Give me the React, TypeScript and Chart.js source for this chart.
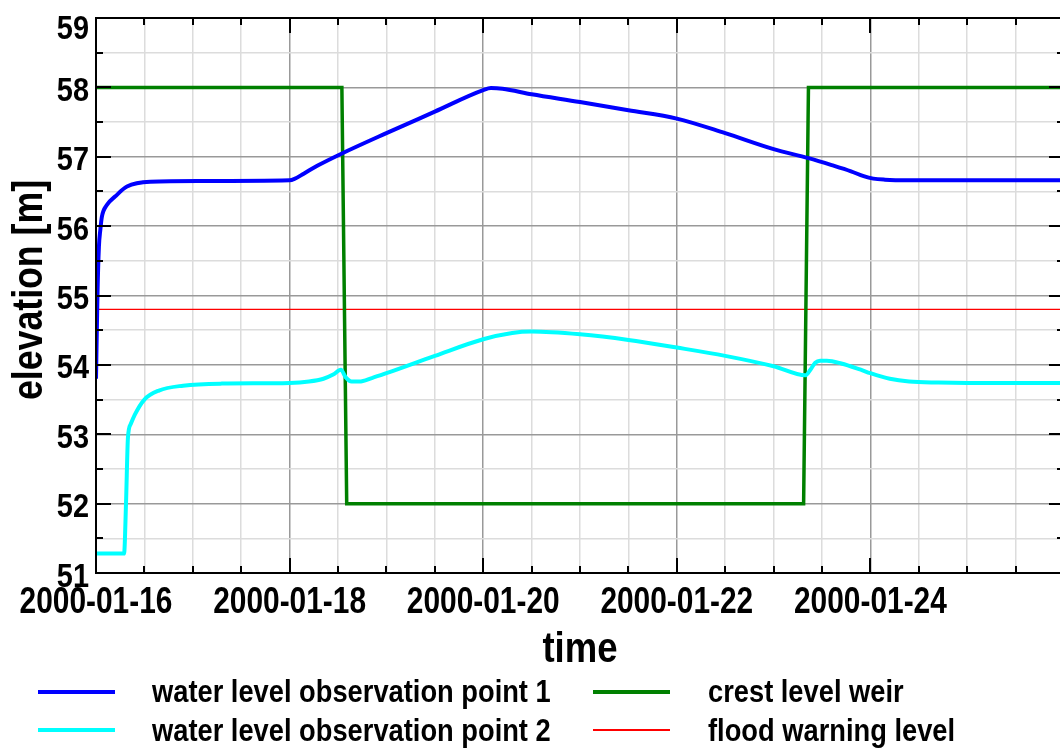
import React, { useEffect, useRef } from 'react';
import { Chart, registerables } from 'chart.js';

Chart.register(...registerables);

const FONT = "'Liberation Sans', Arial, sans-serif";

// x values are days since 2000-01-16 00:00
const xMin = 0;
const xMax = 10;
const xStep = 0.5;
const xTickDays = [0, 2, 4, 6, 8];
const xTickLabels = ['2000-01-16', '2000-01-18', '2000-01-20', '2000-01-22', '2000-01-24'];

const yMin = 51;
const yMax = 59;
const yStep = 0.5;
const yTickValues = [51, 52, 53, 54, 55, 56, 57, 58, 59];
const yTickLabels = ['51', '52', '53', '54', '55', '56', '57', '58', '59'];

const xTitle = 'time';
const yTitle = 'elevation [m]';

const seriesNames = [
  'water level observation point 1',
  'water level observation point 2',
  'crest level weir',
  'flood warning level',
];

const obs1Days = [0, 0.015, 0.03, 0.045, 0.06, 0.11, 0.2, 0.32, 0.56, 1.07, 2.0, 2.05, 2.15, 2.3, 2.53, 3.0, 3.5, 4.0, 4.08, 4.2, 4.5, 5.0, 5.5, 6.0, 6.5, 7.0, 7.36, 7.6, 7.8, 7.93, 8.03, 8.15, 8.4, 10];
const obs1Values = [53.8, 55.0, 55.7, 55.95, 56.13, 56.3, 56.43, 56.57, 56.64, 56.65, 56.66, 56.68, 56.76, 56.88, 57.04, 57.34, 57.65, 57.96, 57.99, 57.98, 57.9, 57.79, 57.67, 57.55, 57.34, 57.11, 56.98, 56.88, 56.79, 56.72, 56.685, 56.67, 56.662, 56.66];

const obs2Days = [0, 0.29, 0.31, 0.33, 0.36, 0.4, 0.5, 0.65, 0.9, 1.3, 2.0, 2.2, 2.35, 2.45, 2.53, 2.58, 2.64, 2.72, 2.85, 3.0, 3.5, 4.0, 4.3, 4.5, 5.0, 5.5, 6.0, 6.5, 7.0, 7.33, 7.38, 7.43, 7.48, 7.55, 7.7, 7.9, 8.0, 8.2, 8.4, 8.7, 9.0, 10];
const obs2Values = [51.28, 51.28, 52.0, 52.95, 53.15, 53.28, 53.5, 53.63, 53.7, 53.73, 53.74, 53.76, 53.8, 53.86, 53.93, 53.82, 53.76, 53.76, 53.81, 53.88, 54.13, 54.37, 54.46, 54.48, 54.44, 54.36, 54.25, 54.13, 53.98, 53.85, 53.93, 54.03, 54.06, 54.06, 54.02, 53.93, 53.88, 53.8, 53.76, 53.745, 53.74, 53.74];

const crestDays = [0, 2.54, 2.59, 7.31, 7.36, 10];
const crestValues = [58, 58, 52, 52, 58, 58];

const floodDays = [0, 10];
const floodValues = [54.8, 54.8];

const colors = ['#0000ff', '#00ffff', '#008000', '#ff0000'];

function toPoints(xs: number[], ys: number[]) {
  return xs.map((x, i) => ({ x, y: ys[i] }));
}

const frameTicks = {
  id: 'frameTicks',
  afterDatasetsDraw(chart: any) {
    const { ctx, chartArea, scales } = chart;
    const { left, right, top, bottom } = chartArea;
    const xs = scales.x;
    const ys = scales.y;
    ctx.save();
    ctx.strokeStyle = '#000000';
    ctx.lineWidth = 2;
    ctx.beginPath();
    xs.ticks.forEach((t: any) => {
      const px = Math.round(xs.getPixelForValue(t.value));
      const len = t.value % 2 === 0 ? 15 : 7;
      ctx.moveTo(px, bottom);
      ctx.lineTo(px, bottom - len);
      ctx.moveTo(px, top);
      ctx.lineTo(px, top + len);
    });
    ys.ticks.forEach((t: any) => {
      const py = Math.round(ys.getPixelForValue(t.value));
      const len = Number.isInteger(t.value) ? 15 : 7;
      ctx.moveTo(left, py);
      ctx.lineTo(left + len, py);
      ctx.moveTo(right, py);
      ctx.lineTo(right - len, py);
    });
    ctx.stroke();
    ctx.strokeRect(left, top, right - left, bottom - top);
    ctx.restore();
  },
};

// draws the axis labels and titles in a condensed (horizontally scaled) bold face
function drawNarrow(ctx: any, text: string, x: number, y: number, size: number, sx: number, align: string, rot = 0) {
  ctx.save();
  ctx.translate(x, y);
  if (rot) ctx.rotate(rot);
  ctx.scale(sx, 1);
  ctx.font = `bold ${size}px ${FONT}`;
  ctx.fillStyle = '#000000';
  ctx.textAlign = align;
  ctx.textBaseline = 'alphabetic';
  ctx.fillText(text, 0, 0);
  ctx.restore();
}

const axisText = {
  id: 'axisText',
  afterDraw(chart: any) {
    const { ctx, chartArea, scales } = chart;
    const xs = scales.x;
    const ys = scales.y;
    xTickDays.forEach((d, i) => {
      drawNarrow(ctx, xTickLabels[i], xs.getPixelForValue(d), chartArea.bottom + 40, 36, 0.83, 'center');
    });
    const ySize = 34;
    yTickValues.forEach((v, i) => {
      const py = ys.getPixelForValue(v);
      const base = Math.max(py + 13.5, 15 + ySize * 0.716);
      drawNarrow(ctx, yTickLabels[i], chartArea.left - 7, base, ySize, 0.85, 'right');
    });
    drawNarrow(ctx, xTitle, (chartArea.left + chartArea.right) / 2, chartArea.bottom + 89, 43, 0.85, 'center');
    drawNarrow(ctx, yTitle, 42, 290, 42, 0.85, 'center', -Math.PI / 2);
  },
};

export default function App() {
  const canvasRef = useRef<HTMLCanvasElement | null>(null);

  useEffect(() => {
    document.body.style.margin = '0';
    document.documentElement.style.overflow = 'hidden';
    const canvas = canvasRef.current;
    if (!canvas) return;
    const chart = new Chart(canvas, {
      type: 'line',
      data: {
        datasets: [
          {
            label: seriesNames[0],
            data: toPoints(obs1Days, obs1Values),
            borderColor: colors[0],
            borderWidth: 4,
            pointRadius: 0,
            cubicInterpolationMode: 'monotone',
          },
          {
            label: seriesNames[1],
            data: toPoints(obs2Days, obs2Values),
            borderColor: colors[1],
            borderWidth: 4,
            pointRadius: 0,
            cubicInterpolationMode: 'monotone',
          },
          {
            label: seriesNames[2],
            data: toPoints(crestDays, crestValues),
            borderColor: colors[2],
            borderWidth: 3.5,
            pointRadius: 0,
          },
          {
            label: seriesNames[3],
            data: toPoints(floodDays, floodValues),
            borderColor: colors[3],
            borderWidth: 1.2,
            pointRadius: 0,
          },
        ],
      },
      options: {
        animation: false,
        responsive: false,
        maintainAspectRatio: false,
        layout: { padding: { top: 18, right: 16, bottom: 0, left: 0 } },
        plugins: { legend: { display: false }, tooltip: { enabled: false } },
        scales: {
          x: {
            type: 'linear',
            min: xMin,
            max: xMax,
            border: { display: false },
            grid: {
              drawTicks: false,
              lineWidth: 1.5,
              color: (c: any) => (c.tick && c.tick.value % 2 === 0 ? '#999999' : '#dcdcdc'),
            },
            ticks: {
              stepSize: xStep,
              autoSkip: false,
              display: false,
            },
            title: { display: false, text: xTitle },
            afterFit: (s: any) => {
              s.height = 176;
              s.paddingLeft = 0;
              s.paddingRight = 0;
            },
          },
          y: {
            type: 'linear',
            min: yMin,
            max: yMax,
            border: { display: false },
            grid: {
              drawTicks: false,
              lineWidth: 1.5,
              color: (c: any) => (c.tick && Number.isInteger(c.tick.value) ? '#999999' : '#dcdcdc'),
            },
            ticks: {
              stepSize: yStep,
              autoSkip: false,
              display: false,
            },
            title: { display: false, text: yTitle },
            afterFit: (s: any) => {
              s.width = 96;
              s.paddingTop = 0;
              s.paddingBottom = 0;
            },
          },
        },
      },
      plugins: [frameTicks, axisText],
    } as any);
    return () => chart.destroy();
  }, []);

  const legendText: React.CSSProperties = {
    position: 'absolute',
    fontFamily: FONT,
    fontWeight: 'bold',
    fontSize: 31,
    lineHeight: '31px',
    whiteSpace: 'nowrap',
    color: '#000000',
    transform: 'scaleX(0.88)',
    transformOrigin: 'left center',
  };

  const items = [
    { lineLeft: 38, textLeft: 152, lineY: 691.5, top: 676, h: 4 },
    { lineLeft: 38, textLeft: 152, lineY: 730, top: 715, h: 4 },
    { lineLeft: 593, textLeft: 708, lineY: 691.5, top: 676, h: 4 },
    { lineLeft: 593, textLeft: 708, lineY: 730, top: 715, h: 1.5 },
  ];

  return (
    <div style={{ position: 'relative', width: 1060, height: 749, overflow: 'hidden', background: '#ffffff' }}>
      <canvas
        ref={canvasRef}
        width={1080}
        height={749}
        style={{ position: 'absolute', left: 0, top: 0, width: 1080, height: 749 }}
      />
      {items.map((it, i) => (
        <React.Fragment key={i}>
          <div
            style={{
              position: 'absolute',
              left: it.lineLeft,
              top: it.lineY - it.h / 2,
              width: 77,
              height: it.h,
              background: colors[i],
            }}
          />
          <div style={{ ...legendText, left: it.textLeft, top: it.top }}>{seriesNames[i]}</div>
        </React.Fragment>
      ))}
    </div>
  );
}
